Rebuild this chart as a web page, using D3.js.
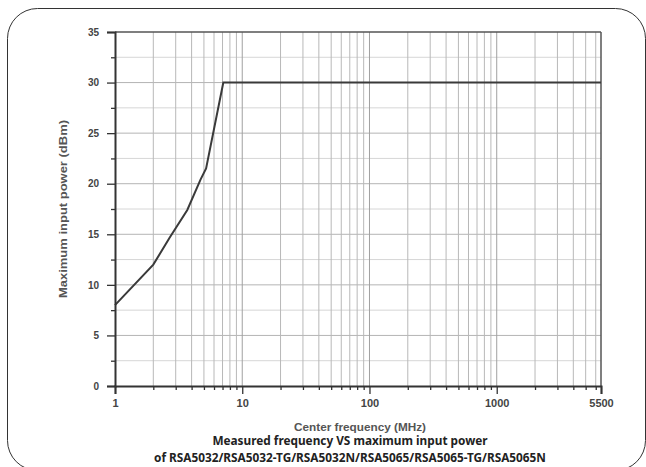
<!DOCTYPE html>
<html><head><meta charset="utf-8">
<script src="https://cdn.jsdelivr.net/npm/d3@7"></script>
<style>html,body{margin:0;padding:0;background:#fff;}svg{display:block;}</style>
</head><body>
<svg id="c" width="646" height="467"></svg>
<script>
// ---- data ----
const freqMHz = [1, 2, 2.7, 3.7, 4.7, 5.2, 7.1, 6600];
const maxPowerDbm = [8, 12, 14.7, 17.4, 20.4, 21.5, 30, 30];
const xTickValues = [1, 10, 100, 1000, 6600];
const xTickLabels = ["1", "10", "100", "1000", "5500"];
const yTickValues = [0, 5, 10, 15, 20, 25, 30, 35];
const yMinorValues = [2.5, 7.5, 12.5, 17.5, 22.5, 27.5, 32.5];
const xTitle = "Center frequency (MHz)";
const yTitle = "Maximum input power (dBm)";
const captionLines = ["Measured frequency VS maximum input power",
  "of RSA5032/RSA5032-TG/RSA5032N/RSA5065/RSA5065-TG/RSA5065N"];

const svg = d3.select("#c");
const L = 115, R = 601, T = 32, B = 386;
const x = d3.scaleLog().domain([1, 6600]).range([L, R]);
const y = d3.scaleLinear().domain([0, 35]).range([B, T]);

// frame
svg.append("rect").attr("x", 7.5).attr("y", 8.5).attr("width", 638).attr("height", 462)
  .attr("rx", 30).attr("fill", "#fff").attr("stroke", "#333").attr("stroke-width", 1);

// minor x grid values
const xMinor = [];
[1, 10, 100, 1000].forEach(d => { for (let k = 2; k <= 9; k++) { const v = d * k; if (v < 6600) xMinor.push(v); } });

const g = svg.append("g");
// horizontal grid
g.selectAll(".hm").data(yMinorValues).join("line")
  .attr("x1", L).attr("x2", R).attr("y1", d => y(d)).attr("y2", d => y(d))
  .attr("stroke", "#d6d6d6").attr("stroke-width", 1);
g.selectAll(".hM").data(yTickValues.filter(d => d > 0 && d < 35)).join("line")
  .attr("x1", L).attr("x2", R).attr("y1", d => y(d)).attr("y2", d => y(d))
  .attr("stroke", "#b4b4b4").attr("stroke-width", 1);
// vertical grid
g.selectAll(".vm").data(xMinor).join("line")
  .attr("x1", d => x(d)).attr("x2", d => x(d)).attr("y1", T).attr("y2", B)
  .attr("stroke", "#b8b8b8").attr("stroke-width", 1);
g.selectAll(".vM").data([10, 100, 1000]).join("line")
  .attr("x1", d => x(d)).attr("x2", d => x(d)).attr("y1", T).attr("y2", B)
  .attr("stroke", "#a0a0a0").attr("stroke-width", 1);

// top & right border
svg.append("line").attr("x1", L).attr("x2", R).attr("y1", T).attr("y2", T).attr("stroke", "#555").attr("stroke-width", 1.5);
svg.append("line").attr("x1", R).attr("x2", R).attr("y1", T).attr("y2", B).attr("stroke", "#555").attr("stroke-width", 1.5);

// data line
svg.append("path").datum(freqMHz.map((f, i) => [f, maxPowerDbm[i]]))
  .attr("d", d3.line().x(d => x(d[0])).y(d => y(d[1])))
  .attr("fill", "none").attr("stroke", "#3a3a3a").attr("stroke-width", 2);

// y axis
svg.append("g").attr("class", "yax").attr("transform", `translate(${L},0)`)
  .call(d3.axisLeft(y).tickValues(yTickValues).tickSize(8).tickPadding(8));
svg.append("g").attr("transform", `translate(${L},0)`)
  .call(d3.axisLeft(y).tickValues(yMinorValues).tickSize(4).tickFormat(""))
  .call(s => s.select(".domain").remove());
// x axis
svg.append("g").attr("class", "xax").attr("transform", `translate(0,${B})`)
  .call(d3.axisBottom(x).tickValues(xTickValues).tickSize(8).tickPadding(5)
    .tickFormat((d, i) => xTickLabels[i]));
svg.append("g").attr("transform", `translate(0,${B})`)
  .call(d3.axisBottom(x).tickValues(xMinor).tickSize(4).tickFormat(""))
  .call(s => s.select(".domain").remove());

svg.selectAll(".domain").attr("stroke", "#333").attr("stroke-width", 2);
svg.selectAll(".tick line").attr("stroke", "#333").attr("stroke-width", 1.3);
svg.selectAll(".tick text").attr("font-family", "Liberation Sans, Arial, sans-serif")
  .attr("font-weight", "bold").attr("fill", "#444");
svg.selectAll(".yax .tick text").attr("font-size", 10);
svg.selectAll(".xax .tick text").attr("font-size", 11);

// titles
svg.append("text").attr("x", 360).attr("y", 431).attr("text-anchor", "middle")
  .attr("font-family", "Liberation Sans, Arial, sans-serif").attr("font-size", 10)
  .attr("textLength", 132).attr("lengthAdjust", "spacingAndGlyphs")
  .attr("font-weight", "bold").attr("fill", "#555").text(xTitle);
svg.append("text").attr("transform", `translate(67,209) rotate(-90)`)
  .attr("text-anchor", "middle")
  .attr("font-family", "Liberation Sans, Arial, sans-serif").attr("font-size", 10)
  .attr("textLength", 178).attr("lengthAdjust", "spacingAndGlyphs")
  .attr("font-weight", "bold").attr("fill", "#555").text(yTitle);

// caption
svg.selectAll(".cap").data(captionLines).join("text")
  .attr("x", 350).attr("y", (d, i) => 445 + i * 16.5).attr("text-anchor", "middle")
  .attr("font-family", "Noto Sans, sans-serif").attr("font-size", 11.8)
  .attr("font-weight", "bold").attr("fill", "#222").text(d => d);
</script>
</body></html>
